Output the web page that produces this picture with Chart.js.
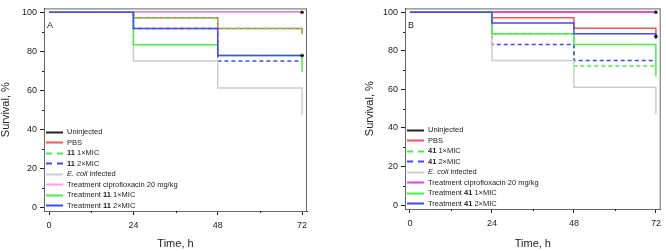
<!DOCTYPE html>
<html>
<head>
<meta charset="utf-8">
<script src="https://cdn.jsdelivr.net/npm/chart.js@4.4.1/dist/chart.umd.min.js"></script>
<style>
  body { margin: 0; background: #fff; }
  #wrap { position: relative; width: 666px; height: 251px; }
  canvas { position: absolute; top: 0; }
</style>
</head>
<body>
<div id="wrap">
  <canvas id="chartA" width="333" height="251" style="left:0px"></canvas>
  <canvas id="chartB" width="333" height="251" style="left:333px"></canvas>
</div>
<script>
// time points in hours, and the axis ticks
const hours = [0, 24, 48, 72]
const xTicks = [0, 12, 24, 36, 48, 60, 72]
const yTicks = [0, 10, 20, 30, 40, 50, 60, 70, 80, 90, 100]

// panel A, survival %
const uninjectedA = [100, 100, 100, 100]
const pbsA = [100, 97.2, 91.7, 88.9]
const cmpd1xA = [100, 97.2, 91.7, 88.9]
const cmpd2xA = [100, 91.7, 75, 75]
const ecoliA = [100, 75, 61.1, 47.2]
const ciproA = [100, 100, 100, 100]
const treat1xA = [100, 83.3, 77.8, 69.4]
const treat2xA = [100, 91.7, 77.8, 77.8]
const starsA = [[72, 100], [72, 77.8]]

// panel B, survival %
const uninjectedB = [100, 100, 100, 100]
const pbsB = [100, 97.2, 91.7, 88.9]
const cmpd1xB = [100, 88.9, 72.2, 72.2]
const cmpd2xB = [100, 83.3, 75, 75]
const ecoliB = [100, 75, 61.1, 47.2]
const ciproB = [100, 100, 100, 100]
const treat1xB = [100, 88.9, 83.3, 66.7]
const treat2xB = [100, 94.4, 88.9, 86.1]
const starsB = [[72, 100], [72, 87.5]]

// legend texts (<b> bold, <i> italic)
const labelsA = ["Uninjected", "PBS", "<b>11</b> 1×MIC", "<b>11</b> 2×MIC", "<i>E. coli</i> infected",
  "Treatment ciprofloxacin 20 mg/kg", "Treatment <b>11</b> 1×MIC", "Treatment <b>11</b> 2×MIC"]
const labelsB = ["Uninjected", "PBS", "<b>41</b> 1×MIC", "<b>41</b> 2×MIC", "<i>E. coli</i> infected",
  "Treatment ciprofloxacin 20 mg/kg", "Treatment <b>41</b> 1×MIC", "Treatment <b>41</b> 2×MIC"]

const FONT = "'Liberation Sans', Arial, sans-serif"
Chart.defaults.font.family = FONT
Chart.defaults.color = "#222"

function toPoints(vals) {
  return hours.map((h, i) => ({x: h, y: vals[i]}))
}

// draw a label with <b> / <i> pieces
function drawRich(ctx, text, x, y) {
  const parts = text.split(/(<b>.*?<\/b>|<i>.*?<\/i>)/).filter(p => p)
  ctx.textBaseline = "middle"
  ctx.fillStyle = "#222"
  parts.forEach(p => {
    let style = ""
    if (p.startsWith("<b>")) { style = "bold "; p = p.slice(3, -4) }
    else if (p.startsWith("<i>")) { style = "italic "; p = p.slice(3, -4) }
    ctx.font = style + "7.5px " + FONT
    ctx.fillText(p, x, y)
    x += ctx.measureText(p).width
  })
}

const decor = {
  id: "decor",
  afterDraw(chart, args, opts) {
    const ctx = chart.ctx
    const a = chart.chartArea
    const xs = chart.scales.x, ys = chart.scales.y
    ctx.save()
    // frame
    ctx.strokeStyle = "#666"
    ctx.lineWidth = 1
    ctx.strokeRect(a.left + 0.5, a.top + 0.5, a.right - a.left - 1, a.bottom - a.top)
    // minor ticks
    ctx.strokeStyle = "#222"
    ctx.beginPath()
    xTicks.filter(v => v % 24 != 0).forEach(v => {
      const px = Math.round(xs.getPixelForValue(v)) + 0.5
      ctx.moveTo(px, a.bottom); ctx.lineTo(px, a.bottom + 2)
    })
    yTicks.filter(v => v % 20 != 0).forEach(v => {
      const py = Math.round(ys.getPixelForValue(v)) + 0.5
      ctx.moveTo(a.left, py); ctx.lineTo(a.left - 2, py)
    })
    ctx.stroke()
    // panel letter
    ctx.fillStyle = "#222"
    ctx.font = "9px " + FONT
    ctx.textBaseline = "alphabetic"
    ctx.fillText(opts.letter, a.left + 3, a.top + 20)
    // legend
    const items = chart.data.datasets.filter(d => d.inLegend)
    let y = a.bottom - 6 - (items.length - 1) * 10.5
    items.forEach(ds => {
      ctx.strokeStyle = ds.borderColor
      ctx.lineWidth = 2
      ctx.setLineDash(ds.borderDash.length ? [6, 5] : [])
      ctx.beginPath()
      ctx.moveTo(a.left + 2, Math.round(y) + 0.5)
      ctx.lineTo(a.left + 19, Math.round(y) + 0.5)
      ctx.stroke()
      ctx.setLineDash([])
      drawRich(ctx, ds.label, a.left + 23, y + 0.5)
      y += 10.5
    })
    ctx.restore()
  }
}

function makeChart(id, letter, series, labels, pink, stars, pad) {
  const colors = ["#222222", "#ff5050", "#44ee44", "#4646ff", "#cccccc", pink, "#44ee44", "#4646ff"]
  const dashed = [false, false, true, true, false, false, false, false]
  const datasets = series.map((s, i) => ({
    label: labels[i],
    inLegend: true,
    data: toPoints(s),
    borderColor: colors[i],
    borderWidth: 1.5,
    borderDash: dashed[i] ? [4, 3] : [],
    stepped: "before",
    pointRadius: 0,
    fill: false,
    order: -i
  }))
  datasets.push({
    type: "scatter",
    label: "",
    inLegend: false,
    data: stars.map(s => ({x: s[0], y: s[1]})),
    pointStyle: "star",
    pointRadius: 1.8,
    borderColor: "#000",
    borderWidth: 1,
    borderDash: [],
    clip: false,
    order: -20
  })

  return new Chart(document.getElementById(id), {
    type: "line",
    data: {datasets: datasets},
    plugins: [decor],
    options: {
      responsive: false,
      animation: false,
      events: [],
      layout: {padding: {left: pad.left, right: pad.right, top: 1, bottom: 0}},
      plugins: {legend: {display: false}, tooltip: {enabled: false}, decor: {letter: letter}},
      scales: {
        x: {
          type: "linear",
          min: -1.45, max: 73.4,
          afterBuildTicks: sc => { sc.ticks = xTicks.map(v => ({value: v})) },
          afterFit: sc => { sc.height = pad.xh },
          ticks: {callback: v => v % 24 == 0 ? v : "", font: {size: 9}, padding: 5, maxRotation: 0, autoSkip: false},
          grid: {drawOnChartArea: false, tickLength: 4,
                 tickColor: c => c.tick && c.tick.value % 24 == 0 ? "#222" : "rgba(0,0,0,0)"},
          border: {color: "#222"},
          title: {display: true, text: "Time, h", font: {size: 11, lineHeight: 1}, padding: {top: 0, bottom: 2}}
        },
        y: {
          min: -2, max: 102,
          afterBuildTicks: sc => { sc.ticks = yTicks.map(v => ({value: v})) },
          afterFit: sc => { sc.width = pad.yw },
          ticks: {callback: v => v % 20 == 0 ? v : "", font: {size: 9}, padding: 3, autoSkip: false},
          grid: {drawOnChartArea: false, tickLength: 4,
                 tickColor: c => c.tick && c.tick.value % 20 == 0 ? "#222" : "rgba(0,0,0,0)"},
          border: {color: "#222"},
          title: {display: true, text: "Survival, %", font: {size: 11, lineHeight: 1}, padding: {top: 0, bottom: 0}}
        }
      }
    }
  })
}

makeChart("chartA", "A",
  [uninjectedA, pbsA, cmpd1xA, cmpd2xA, ecoliA, ciproA, treat1xA, treat2xA],
  labelsA, "#ff99ff", starsA, {left: 0, right: 26, yw: 44, xh: 40})

makeChart("chartB", "B",
  [uninjectedB, pbsB, cmpd1xB, cmpd2xB, ecoliB, ciproB, treat1xB, treat2xB],
  labelsB, "#ff33ff", starsB, {left: 31, right: 1, yw: 41, xh: 42})
</script>
</body>
</html>
